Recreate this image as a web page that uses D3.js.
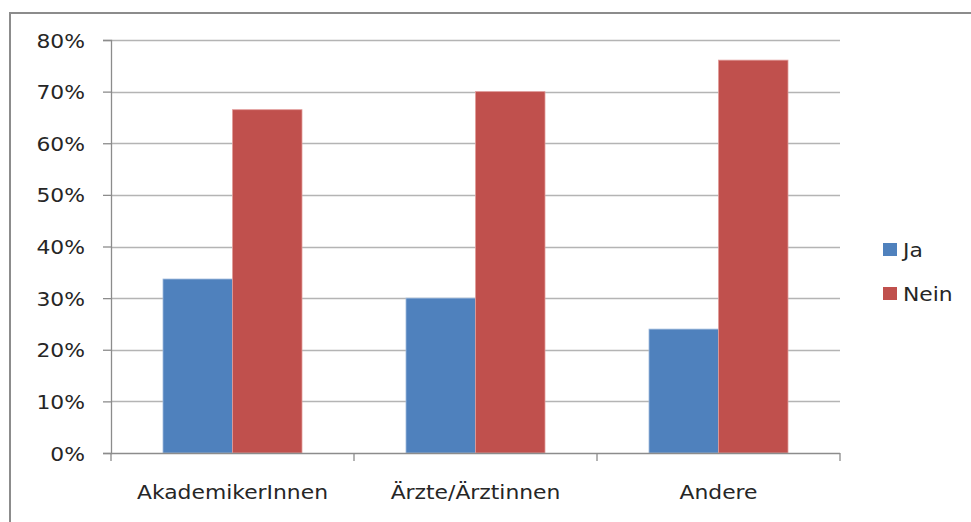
<!DOCTYPE html>
<html><head><meta charset="utf-8">
<script src="https://cdn.jsdelivr.net/npm/d3@7"></script>
<style>body{margin:0;background:#fff}svg{display:block}text{font-family:"DejaVu Sans",sans-serif;fill:#262626}</style>
</head><body><svg id="c" width="971" height="522"></svg>
<script>
const categories = ["AkademikerInnen", "Ärzte/Ärztinnen", "Andere"];
const seriesNames = ["Ja", "Nein"];
const jaValues = [0.337, 0.30, 0.24];
const neinValues = [0.665, 0.70, 0.761];
const yTicks = [0, 0.1, 0.2, 0.3, 0.4, 0.5, 0.6, 0.7, 0.8];
const colors = ["#4F81BD", "#C0504D"];

(function () {
const svg = d3.select("#c");
const SX = 1.15;
// outer border (clipped at right/bottom like reference)
svg.append("rect").attr("x", 10).attr("y", 13).attr("width", 980).attr("height", 530)
  .attr("fill", "none").attr("stroke", "#8c8c8c").attr("stroke-width", 2);

const pLeft = 111, pRight = 840, pTop = 40, pBottom = 453;
const y = d3.scaleLinear().domain([0, 0.8]).range([pBottom, pTop]);
const x0 = d3.scaleBand().domain(categories).range([pLeft, pRight]).paddingInner(0.428).paddingOuter(0.214);
const x1 = d3.scaleBand().domain(seriesNames).range([0, x0.bandwidth()]);

// gridlines
svg.append("g").selectAll("line").data(yTicks.slice(1)).join("line")
  .attr("x1", pLeft).attr("x2", pRight).attr("y1", d => Math.round(y(d)) + 0.5).attr("y2", d => Math.round(y(d)) + 0.5)
  .attr("stroke", "#b4b4b4").attr("stroke-width", 1.3);

// y axis
const yAxis = d3.axisLeft(y).tickValues(yTicks).tickFormat(d3.format(".0%")).tickSize(8).tickPadding(18);
const gy = svg.append("g").attr("transform", `translate(${pLeft},0)`).call(yAxis);
gy.select(".domain").attr("stroke", "#8c8c8c").attr("stroke-width", 1.3);
gy.selectAll(".tick line").attr("stroke", "#8c8c8c").attr("stroke-width", 1.3);
gy.selectAll(".tick text")
  .attr("x", null).attr("dy", null)
  .attr("transform", `translate(-26,7) scale(${SX},1)`)
  .attr("font-size", 19).attr("font-family", "DejaVu Sans, sans-serif").attr("fill", "#262626");

// bars
const data = categories.map((c, i) => ({cat: c, vals: [jaValues[i], neinValues[i]]}));
const groups = svg.append("g").selectAll("g").data(data).join("g")
  .attr("transform", d => `translate(${x0(d.cat)},0)`);
groups.selectAll("rect").data(d => d.vals.map((v, j) => ({s: seriesNames[j], v, j}))).join("rect")
  .attr("x", d => x1(d.s)).attr("width", x1.bandwidth())
  .attr("y", d => y(d.v)).attr("height", d => pBottom - y(d.v))
  .attr("fill", d => colors[d.j]).attr("stroke", d => d.j === 0 ? "#9db9dc" : "#e29c9a").attr("stroke-width", 0.8);

// x axis
const step = x0.step();
const xAxisG = svg.append("g");
xAxisG.append("line").attr("x1", pLeft).attr("x2", pRight).attr("y1", pBottom + 0.5).attr("y2", pBottom + 0.5)
  .attr("stroke", "#8c8c8c").attr("stroke-width", 1.3);
const bounds = [0, 1, 2, 3].map(i => pLeft + i * step);
xAxisG.selectAll("line.t").data(bounds).join("line").attr("class", "t")
  .attr("x1", d => d).attr("x2", d => d).attr("y1", pBottom).attr("y2", pBottom + 8)
  .attr("stroke", "#8c8c8c").attr("stroke-width", 1.3);
xAxisG.selectAll("text").data(categories).join("text")
  .attr("transform", d => `translate(${x0(d) + x0.bandwidth() / 2},499) scale(${SX},1)`)
  .attr("text-anchor", "middle").attr("font-size", 19).text(d => d);

// legend
const legend = svg.append("g").selectAll("g").data(seriesNames).join("g")
  .attr("transform", (d, i) => `translate(883,${243 + i * 44})`);
legend.append("rect").attr("width", 14).attr("height", 13).attr("fill", (d, i) => colors[i]);
legend.append("text").attr("transform", `translate(20,14) scale(${SX},1)`).attr("font-size", 19).text(d => d);
})();
</script></body></html>
